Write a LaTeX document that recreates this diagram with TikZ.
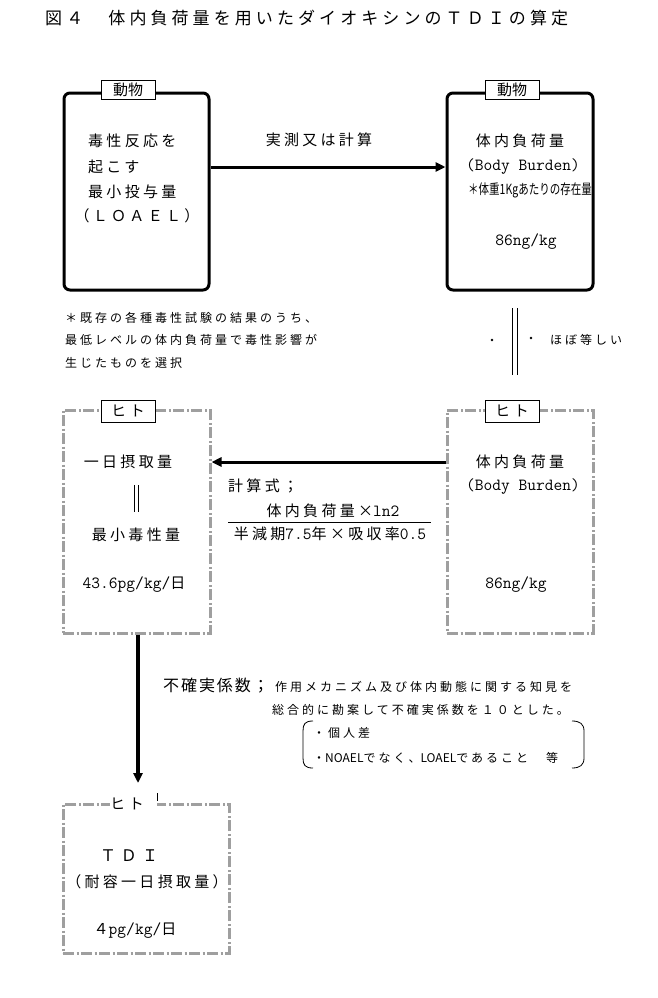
\documentclass[tikz,border=0pt]{standalone}
\usepackage{fontspec}
\usepackage{graphicx}
\newfontfamily\jp{Noto Sans CJK JP}[LetterSpace=22]
\newfontfamily\jpt{Noto Sans CJK JP}[LetterSpace=24]
\newfontfamily\jps{Noto Sans CJK JP}[LetterSpace=25]
\newfontfamily\jpu{Noto Sans CJK JP}[LetterSpace=12]
\newfontfamily\jpn{Noto Sans CJK JP}
\newcommand\fsz[1]{\fontsize{#1}{#1}\selectfont}
\usetikzlibrary{arrows.meta}
\begin{document}
\begin{tikzpicture}[x=1pt,y=-1pt,
  solidbox/.style={draw, line width=3pt, rounded corners=6pt},
  hatch/.style={draw=gray!75, line width=3pt, dash pattern=on 11pt off 2.5pt on 2pt off 2.5pt},
  lab/.style={draw, line width=0.8pt, fill=white, minimum width=54pt, minimum height=19pt, inner sep=0pt, font=\jpn\fsz{15}},
  arr/.style={line width=3pt, -{Triangle[length=10pt,width=9pt]}},
  thin/.style={line width=0.8pt},
  t15/.style={inner sep=0pt, font=\ttfamily\fsz{17}},
  j15/.style={inner sep=0pt, font=\jp\fsz{15}},
  j12/.style={inner sep=0pt, font=\jps\fsz{12}},
  j16/.style={inner sep=0pt, font=\jpu\fsz{16}}]
\useasboundingbox[fill=white] (0,0) rectangle (658,998);

% title
\node[anchor=west, inner sep=0pt, font=\jpt\fsz{17}] (title) at (45,18) {図４　体内負荷量を用いたダイオキシンのＴＤＩの算定};

% top boxes
\node[solidbox, minimum width=145pt, minimum height=197pt] (A) at (136.5,191.5) {};
\node[solidbox, minimum width=146pt, minimum height=197pt] (B) at (520,191.5) {};
\node[lab] (LA) at (128,90) {動物};
\node[lab] (LB) at (512,90) {動物};

\node[j15, anchor=west] (a1) at (88,141) {毒性反応を};
\node[j15, anchor=west] (a2) at (88,167) {起こす};
\node[j15, anchor=west] (a3) at (88,192) {最小投与量};
\node[j15] (a4) at (137,216) {（ＬＯＡＥＬ）};

\draw[arr] ([yshift=24.5pt]A.east) -- ([yshift=24.5pt]B.west);
\node[j15] (lab1) at (319,140) {実測又は計算};

\node[j15] (b1) at (520,141) {体内負荷量};
\node[t15] (b2) at (523,167) {(Body Burden)};
\node[inner sep=0pt] (b3) at (530,190) {\scalebox{0.75}[1]{\jpn\fsz{14}＊体重1Kgあたりの存在量}};
\node[t15] (b4) at (526,242) {86ng/kg};

% note
\node[j12, anchor=west] (n1) at (65,318) {＊既存の各種毒性試験の結果のうち、};
\node[j12, anchor=west] (n2) at (65,340) {最低レベルの体内負荷量で毒性影響が};
\node[j12, anchor=west] (n3) at (65,363) {生じたものを選択};

% approx equal
\draw[thin] (512.5,308) -- (512.5,375);
\draw[thin] (517.5,308) -- (517.5,375);
\fill (492,340) circle (1.3);
\fill (531,338) circle (1.3);
\node[j12] (eq) at (586,340) {ほぼ等しい};

% middle boxes
\node[hatch, minimum width=147pt, minimum height=223pt] (C) at (136.5,521.5) {};
\node[hatch, minimum width=146pt, minimum height=223pt] (D) at (520,521.5) {};
\node[lab, minimum height=22pt] (LC) at (128,411) {ヒ\hspace{4pt}ト};
\node[lab, minimum height=22pt] (LD) at (512,411) {ヒ\hspace{4pt}ト};

\node[j15] (c1) at (128,462) {一日摂取量};
\draw[thin] (134,485) -- (134,512);
\draw[thin] (138.5,485) -- (138.5,512);
\node[j15] (c2) at (136,535) {最小毒性量};
\node[t15] (c3) at (134,585) {43.6pg/kg/{\jp\fsz{15}日}};

\node[j15] (d1) at (520,462) {体内負荷量};
\node[t15] (d2) at (523,487) {(Body Burden)};
\node[t15] (d3) at (516,585) {86ng/kg};

\draw[arr] ([yshift=59.5pt]D.west) -- ([yshift=59.5pt]C.east);

\node[j15, anchor=west] (f0) at (228,486) {計算式；};
\node[t15] (f1) at (333,511) {{\jp\fsz{15}体内負荷量×}ln2};
\draw[thin] (228,522) -- (431,522);
\node[t15] (f2) at (330,534) {{\jp\fsz{15}半減期}7.5{\jp\fsz{15}年×吸収率}0.5};

% down arrow
\coordinate (tipE) at (138,783);
\draw[arr, line width=3.5pt] ([xshift=1.5pt]C.south) -- (tipE);

% uncertainty
\node[j16, anchor=west] (u0) at (163,686) {不確実係数；};
\node[j12, anchor=west] (u1) at (275,687) {作用メカニズム及び体内動態に関する知見を};
\node[j12, anchor=west] (u2) at (272,710) {総合的に勘案して不確実係数を１０とした。};
\node[j12, anchor=west] (u3) at (313,733) {・個人差};
\node[anchor=west, inner sep=0pt] (u4) at (313,758) {{\jps\fsz{12}・}{\jpn\fsz{12}NOAEL}{\jps\fsz{12}でなく、}{\jpn\fsz{12}LOAEL}{\jps\fsz{12}であること　等}};
\draw[thin] (313,721) .. controls (305,721) and (303,724) .. (303,731) -- (303,758) .. controls (303,765) and (305,768) .. (313,768);
\draw[thin] (572,721) .. controls (580,721) and (584,724) .. (584,731) -- (584,758) .. controls (584,765) and (580,768) .. (572,768);

% bottom box
\node[hatch, minimum width=166pt, minimum height=149pt] (E) at (146,878.5) {};
\node[fill=white, inner sep=0pt, minimum width=47pt, minimum height=8pt] (gapE) at (133.5,804) {};
\node[inner sep=0pt, font=\jpn\fsz{15}] (LE) at (127,804) {ヒ\hspace{4pt}ト};
\draw[thin] (157,793) -- (157,801);

\node[inner sep=0pt, font=\jpn\fsz{16}] (e1) at (129,856) {Ｔ\hspace{5pt}Ｄ\hspace{5pt}Ｉ};
\node[j15] (e2) at (147,882) {（耐容一日摂取量）};
\node[t15] (e3) at (135,931) {{\jp\fsz{15}４}pg/kg/{\jp\fsz{15}日}};
\end{tikzpicture}
\end{document}
